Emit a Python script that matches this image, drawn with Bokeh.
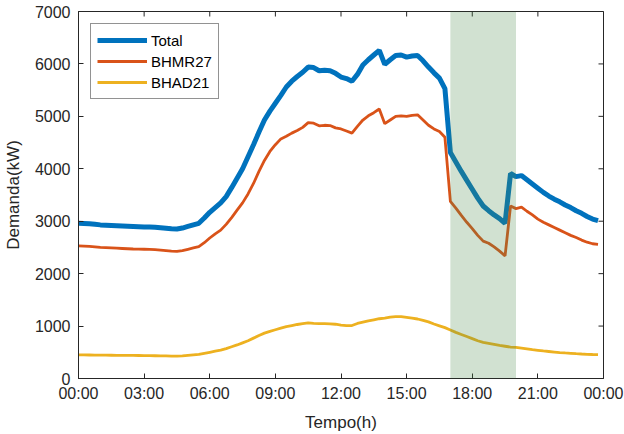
import math
from bokeh.plotting import figure
from bokeh.models import (ColumnDataSource, FixedTicker, Legend,
                          LegendItem, BoxAnnotation, Range1d)
from bokeh.embed import file_html
from bokeh.resources import INLINE

# 15-minute demand samples over one day (kW)
hours = [i / 4 for i in range(96)]

total = [
    2960, 2955, 2950, 2940, 2930, 2925, 2920, 2915, 2910, 2905, 2900, 2895,
    2890, 2890, 2885, 2875, 2865, 2855, 2850, 2870, 2900, 2930, 2960, 3060,
    3170, 3260, 3350, 3470, 3640, 3820, 4000, 4230, 4460, 4700, 4930, 5100,
    5250, 5400, 5560, 5670, 5760, 5840, 5940, 5930, 5870, 5880, 5870, 5820,
    5750, 5720, 5670, 5800, 5980, 6080, 6170, 6260, 5990, 6080, 6160, 6170,
    6130, 6150, 6160, 6060, 5940, 5830, 5730, 5530, 4310, 4130, 3950, 3780,
    3610, 3440, 3290, 3200, 3120, 3050, 2960, 3910, 3850, 3870, 3790, 3710,
    3630, 3550, 3480, 3420, 3370, 3310, 3260, 3200, 3150, 3090, 3040, 3010,
]

bhmr27 = [
    2530, 2525, 2520, 2510, 2500, 2495, 2490, 2485, 2480, 2475, 2470, 2468,
    2465, 2462, 2458, 2450, 2440, 2430, 2425, 2440, 2465, 2490, 2515, 2590,
    2680, 2760, 2830, 2940, 3070, 3210, 3350, 3520, 3720, 3950, 4160, 4330,
    4460, 4570, 4620, 4680, 4730, 4790, 4880, 4870, 4820, 4830, 4825, 4780,
    4760, 4720, 4680, 4810, 4930, 5010, 5070, 5140, 4860, 4930, 5000, 5010,
    5000, 5020, 5030, 4930, 4830, 4760, 4710, 4600, 3380, 3250, 3110, 2980,
    2860, 2730, 2620, 2580, 2510, 2430, 2340, 3290, 3240, 3270, 3190, 3120,
    3040, 2980, 2930, 2880, 2830, 2780, 2730, 2690, 2640, 2600, 2570, 2560,
]

bhad21 = [
    452, 450, 448, 446, 445, 444, 443, 442, 441, 440, 440, 439,
    438, 436, 434, 432, 430, 428, 425, 430, 440, 450, 460, 480,
    500, 520, 540, 570, 605, 640, 680, 720, 770, 820, 865, 900,
    930, 960, 990, 1010, 1030, 1045, 1060, 1050, 1045, 1045, 1043, 1035,
    1020, 1010, 1010, 1050, 1075, 1100, 1120, 1140, 1150, 1170, 1180, 1180,
    1165, 1150, 1135, 1110, 1080, 1040, 1005, 970, 925, 880, 840, 800,
    760, 720, 690, 670, 650, 630, 615, 600, 595, 580, 565, 550,
    538, 525, 515, 505, 495, 487, 480, 473, 467, 462, 458, 455,
]

series_names = ["Total", "BHMR27", "BHAD21"]
x_ticks = [0, 3, 6, 9, 12, 15, 18, 21, 24]
x_tick_labels = ["00:00", "03:00", "06:00", "09:00", "12:00",
                 "15:00", "18:00", "21:00", "00:00"]
y_ticks = [0, 1000, 2000, 3000, 4000, 5000, 6000, 7000]
peak_window = [17, 20]  # highlighted period (h)

AX = "#262626"
FONT = "Liberation Sans"
X_MAX, Y_MAX = 24, 7000

p = figure(width=624, height=434, output_backend="svg", toolbar_location=None,
           x_range=Range1d(0, X_MAX), y_range=Range1d(0, Y_MAX),
           min_border_left=78, min_border_right=21,
           min_border_top=11, min_border_bottom=56)
p.background_fill_color = "white"
p.border_fill_color = "white"
p.outline_line_color = AX
p.outline_line_width = 1
p.grid.visible = False

src = ColumnDataSource(dict(h=hours, total=total, bhmr27=bhmr27, bhad21=bhad21))
r_tot = p.line("h", "total", source=src, line_color="#0072BD", line_width=5)
r_mr = p.line("h", "bhmr27", source=src, line_color="#D95319", line_width=2.8)
r_ad = p.line("h", "bhad21", source=src, line_color="#EDB120", line_width=2.8)

# translucent band over the evening window
p.add_layout(BoxAnnotation(left=peak_window[0], right=peak_window[1],
                           fill_color="#4d8c4d", fill_alpha=0.26,
                           line_color=None))

# inward tick marks on the right and top edges of the box (half of each
# dash falls outside the frame and is clipped away)
p.scatter([X_MAX] * len(y_ticks), y_ticks, marker="dash", size=10,
          line_color=AX, line_width=1)
p.scatter(x_ticks, [Y_MAX] * len(x_ticks), marker="dash", size=10,
          angle=math.pi / 2, line_color=AX, line_width=1)

def style_axis(ax):
    ax.major_tick_in = 5
    ax.major_tick_out = 0
    ax.minor_tick_line_color = None
    ax.axis_line_color = AX
    ax.major_tick_line_color = AX
    ax.major_label_text_color = AX
    ax.major_label_text_font = FONT
    ax.major_label_text_font_size = "16px"
    ax.axis_label_text_font = FONT
    ax.axis_label_text_font_size = "17px"
    ax.axis_label_text_font_style = "normal"
    ax.axis_label_text_color = AX

xa = p.xaxis[0]
style_axis(xa)
xa.ticker = FixedTicker(ticks=x_ticks)
xa.major_label_overrides = {t: s for t, s in zip(x_ticks, x_tick_labels)}
xa.major_label_standoff = 6
xa.axis_label = "Tempo(h)"
xa.axis_label_standoff = 8

ya = p.yaxis[0]
style_axis(ya)
ya.ticker = FixedTicker(ticks=y_ticks)
ya.major_label_standoff = 8
ya.axis_label = "Demanda(kW)"
ya.axis_label_standoff = 9

legend = Legend(items=[LegendItem(label=series_names[0], renderers=[r_tot]),
                       LegendItem(label=series_names[1], renderers=[r_mr]),
                       LegendItem(label=series_names[2], renderers=[r_ad])],
                location="top_left", margin=12, padding=6, spacing=1,
                glyph_width=50, glyph_height=20, label_height=20,
                label_standoff=4, label_text_font=FONT,
                label_text_font_size="15px", label_text_color="black",
                border_line_color=AX, border_line_width=1,
                background_fill_color="white", background_fill_alpha=1)
p.add_layout(legend)

open("out.html", "w").write(file_html(p, INLINE))
